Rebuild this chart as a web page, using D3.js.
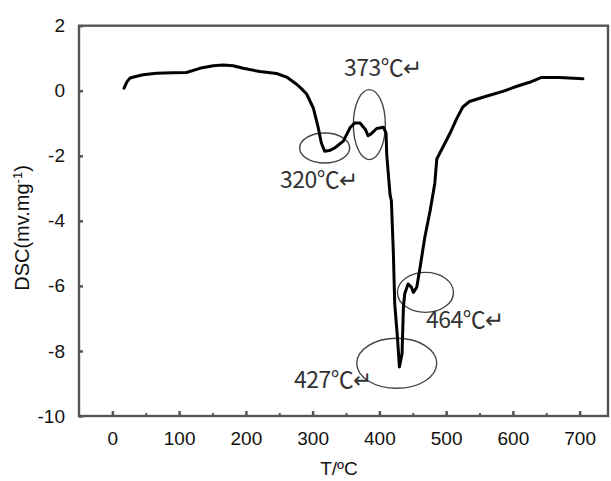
<!DOCTYPE html>
<html>
<head>
<meta charset="utf-8">
<script src="https://cdn.jsdelivr.net/npm/d3@7"></script>
<style>
  body { margin: 0; background: #fff; }
</style>
</head>
<body>
<div id="chart"></div>
<script>
// set dimensions
var width = 611
var height = 481

// DSC curve
var temps = [17.5, 22, 26.5, 35, 46, 66, 90, 111, 131, 151, 166, 181, 196, 221, 246, 261, 276, 284, 291,
  301, 308, 313, 318, 325, 333, 346, 356, 363, 371, 379, 383, 388, 396, 406, 410, 411, 416, 418, 421,
  423, 427, 430, 434, 436, 438, 443, 448, 451, 456, 461, 468, 476, 483, 486, 496, 506, 516, 525, 535,
  560, 585, 605, 625, 643, 670, 705]
var dsc = [0.08, 0.28, 0.39, 0.44, 0.49, 0.54, 0.55, 0.56, 0.69, 0.77, 0.79, 0.77, 0.69, 0.59, 0.53, 0.42,
  0.2, 0.05, -0.1, -0.53, -1.1, -1.6, -1.86, -1.84, -1.76, -1.55, -1.14, -0.99, -0.99, -1.19, -1.38, -1.32,
  -1.16, -1.12, -1.3, -1.96, -3.2, -3.39, -5.02, -6.55, -7.57, -8.49, -8.08, -6.65, -6.24, -5.94, -6.04,
  -6.2, -6.04, -5.43, -4.51, -3.69, -2.85, -2.1, -1.7, -1.3, -0.85, -0.5, -0.33, -0.17, -0.02, 0.13, 0.26,
  0.41, 0.41, 0.37]

// ticks
var xTicks = [0, 100, 200, 300, 400, 500, 600, 700]
var xMinorTicks = [50, 150, 250, 350, 450, 550, 650]
var yTicks = [2, 0, -2, -4, -6, -8, -10]

// peak marks: label, temperature and DSC value at the circled spot
var peakLabels = ["320℃↵", "373℃↵", "464℃↵", "427℃↵"]
var peakTemps = [318, 385, 469, 426]
var peakValues = [-1.76, -1.04, -6.2, -8.38]

var svg = d3.select("#chart")
  .append("svg")
  .attr("width", width)
  .attr("height", height)

var x = d3.scaleLinear().domain([-50, 742.5]).range([79, 608])
var y = d3.scaleLinear().domain([-10, 2]).range([416, 25.7])

var axisColor = "#555"
var tickFont = "Liberation Sans, Arial, sans-serif"

// frame
svg.append("rect")
  .attr("x", x.range()[0])
  .attr("y", y.range()[1])
  .attr("width", x.range()[1] - x.range()[0])
  .attr("height", y.range()[0] - y.range()[1])
  .attr("fill", "none")
  .attr("stroke", axisColor)
  .attr("stroke-width", 2.4)

// x axis
var xAxis = svg.append("g")
  .attr("transform", "translate(0," + y(-10) + ")")
  .call(d3.axisBottom(x).tickValues(xTicks).tickSize(-5).tickPadding(16).tickFormat(function(d) { return d }))
xAxis.select(".domain").remove()
xAxis.selectAll("line").attr("stroke", axisColor).attr("stroke-width", 2.5)
xAxis.selectAll("text")
  .attr("font-family", tickFont)
  .attr("font-size", "19px")
  .attr("fill", "#111")

var xMinor = svg.append("g")
  .attr("transform", "translate(0," + y(-10) + ")")
  .call(d3.axisBottom(x).tickValues(xMinorTicks).tickSize(-3).tickFormat(""))
xMinor.select(".domain").remove()
xMinor.selectAll("line").attr("stroke", axisColor).attr("stroke-width", 2)

// y axis
var yAxis = svg.append("g")
  .attr("transform", "translate(" + x(-50) + ",0)")
  .call(d3.axisLeft(y).tickValues(yTicks).tickSize(-4).tickPadding(14).tickFormat(function(d) { return d }))
yAxis.select(".domain").remove()
yAxis.selectAll("line").attr("stroke", axisColor).attr("stroke-width", 2.5)
yAxis.selectAll("text")
  .attr("font-family", tickFont)
  .attr("font-size", "19px")
  .attr("fill", "#111")

// axis titles
svg.append("text")
  .attr("x", 339)
  .attr("y", 475)
  .attr("text-anchor", "middle")
  .attr("font-family", tickFont)
  .attr("font-size", "19px")
  .attr("fill", "#111")
  .text("T/ºC")

var yTitle = svg.append("text")
  .attr("transform", "translate(29,228) rotate(-90)")
  .attr("text-anchor", "middle")
  .attr("font-family", tickFont)
  .attr("font-size", "20px")
  .attr("fill", "#111")
yTitle.append("tspan").text("DSC(mv.mg")
yTitle.append("tspan").attr("dy", -7).attr("font-size", "13px").text("-1")
yTitle.append("tspan").attr("dy", 7).text(")")

// ellipses round the peaks
var ellipseRx = [25, 16, 28, 40]
var ellipseRy = [15, 35, 20, 25]
svg.append("g")
  .selectAll("ellipse")
  .data(peakTemps)
  .enter()
  .append("ellipse")
  .attr("cx", function(d) { return x(d) })
  .attr("cy", function(d, i) { return y(peakValues[i]) })
  .attr("rx", function(d, i) { return ellipseRx[i] })
  .attr("ry", function(d, i) { return ellipseRy[i] })
  .attr("fill", "none")
  .attr("stroke", "#444")
  .attr("stroke-width", 1.4)

// the DSC curve
var line = d3.line()
  .x(function(d) { return x(d[0]) })
  .y(function(d) { return y(d[1]) })

svg.append("path")
  .datum(d3.zip(temps, dsc))
  .attr("d", line)
  .attr("fill", "none")
  .attr("stroke", "#000")
  .attr("stroke-width", 3)
  .attr("stroke-linejoin", "round")
  .attr("stroke-linecap", "round")

// peak labels
var labelX = [280, 344, 426, 294]
var labelY = [188, 76, 328, 388]
svg.append("g")
  .selectAll("text")
  .data(peakLabels)
  .enter()
  .append("text")
  .attr("x", function(d, i) { return labelX[i] })
  .attr("y", function(d, i) { return labelY[i] })
  .attr("font-family", "Noto Sans CJK SC, sans-serif")
  .attr("font-size", "23px")
  .attr("letter-spacing", "-0.5px")
  .attr("fill", "#333")
  .text(function(d) { return d })
</script>
</body>
</html>
